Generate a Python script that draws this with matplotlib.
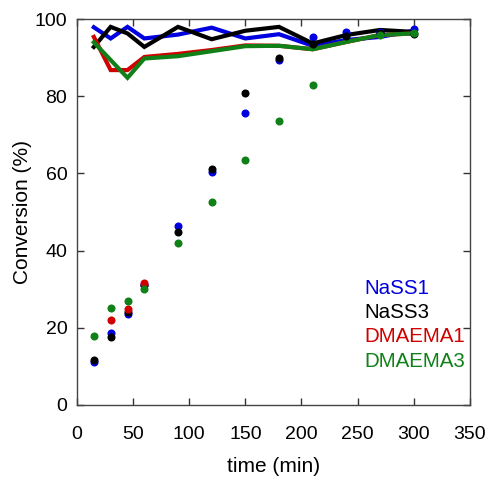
import numpy as np
import matplotlib
matplotlib.use("Agg")
import matplotlib.pyplot as plt

plt.rcParams['font.family'] = ['Liberation Sans', 'DejaVu Sans']

time = [15, 30, 45, 60, 90, 120, 150, 180, 210, 240, 270, 300]
series = ["NaSS1", "NaSS3", "DMAEMA1", "DMAEMA3"]
colors = ["#0000e0", "#000000", "#d00000", "#108018"]

# Lines (upper curves)
line_nass1 = [97.9, 95.0, 98.0, 95.0, 96.0, 97.8, 95.0, 96.1, 93.1, 94.6, 95.4, 97.0]
line_nass3 = [92.8, 98.0, 96.3, 92.8, 98.0, 94.8, 97.0, 98.0, 93.7, 95.9, 97.2, 96.7]
line_dmaema1 = [95.4, 86.8, 86.8, 90.2, 91.0, 92.0, 93.2, 93.1, 92.2, 94.1, 95.9, 96.3]
line_dmaema3 = [94.0, 89.4, 84.8, 89.8, 90.4, 91.7, 93.0, 93.1, 92.2, 94.1, 95.9, 96.3]

# Points (conversion)
nan = np.nan
pts_nass1 = [11.1, 18.7, 23.6, 31.0, 46.4, 60.4, 75.6, 89.4, 95.4, 96.7, 96.8, 97.5]
pts_nass3 = [11.7, 17.6, 24.1, 31.0, 44.8, 61.2, 80.8, 90.0, 93.5, 95.6, 96.5, 96.2]
pts_dmaema1 = [nan, 22.0, 24.9, 31.6, nan, nan, nan, nan, nan, nan, nan, nan]
pts_dmaema3 = [17.9, 25.1, 26.9, 30.0, 42.0, 52.6, 63.5, 73.7, 83.0, nan, 96.0, 96.3]

lines = [line_nass1, line_nass3, line_dmaema1, line_dmaema3]
points = [pts_nass1, pts_nass3, pts_dmaema1, pts_dmaema3]

fig = plt.figure(figsize=(4.92, 4.79), dpi=100)
ax = fig.add_axes([0.1565, 0.1545, 0.7985, 0.8055])

for ln, c in zip(lines, colors):
    ax.plot(time, ln, color=c, lw=3.0, solid_joinstyle='miter', zorder=2)
for p, c in zip(points, colors):
    ax.plot(time, p, 'o', color=c, ms=5.8, mec='none', zorder=3)

ax.set_xlim(0, 350)
ax.set_ylim(0, 100)
ax.set_xticks(np.arange(0, 351, 50))
ax.set_yticks(np.arange(0, 101, 20))
ax.tick_params(direction='in', top=True, right=True, length=5, width=1,
               labelsize=14, colors='#333333', labelcolor='black')
ax.tick_params(axis='x', pad=15)
ax.tick_params(axis='y', pad=7)
for s in ax.spines.values():
    s.set_color('#444444')
    s.set_linewidth(1)

ax.set_xlabel("time (min)", fontsize=15, labelpad=10)
ax.set_ylabel("Conversion (%)", fontsize=15, labelpad=2)

ys = [288, 312, 336, 361]
for name, c, yp in zip(series, colors, ys):
    yf = (405 - yp) / (405 - 19)
    xf = (364 - 77) / (470 - 77)
    ax.text(xf, yf, name, color=c, fontsize=14.8, transform=ax.transAxes,
            ha='left', va='center')

fig.savefig("out.png", dpi=100)
